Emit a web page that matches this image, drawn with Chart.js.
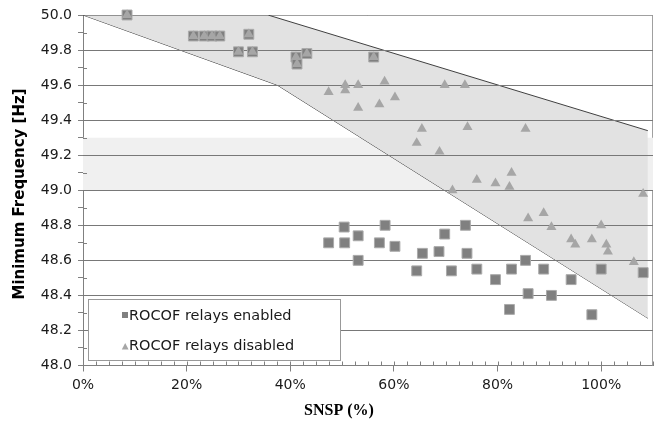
<!DOCTYPE html>
<html>
<head>
<meta charset="utf-8">
<script src="https://cdn.jsdelivr.net/npm/chart.js@4.4.0/dist/chart.umd.min.js"></script>
<style>
html, body { margin: 0; padding: 0; background: #fff; }
</style>
</head>
<body>
<canvas id="chart" width="661" height="429"></canvas>
<script>
// ROCOF relays enabled (squares)
const enabledSnsp = [8.5, 21.3, 23.4, 24.9, 26.4, 32.0, 30.0, 32.7, 41.1, 41.3, 43.2, 56.1,
    47.4, 50.4, 50.5, 53.1, 53.1, 57.2, 58.3, 60.2, 64.4, 65.5, 68.7, 69.8, 71.1, 73.8, 74.1,
    76.0, 79.6, 82.3, 82.7, 85.4, 85.9, 88.9, 90.4, 94.2, 98.2, 100.0, 108.1];
const enabledFreq = [50.0, 49.88, 49.88, 49.88, 49.88, 49.89, 49.79, 49.79, 49.76, 49.72, 49.78, 49.76,
    48.70, 48.79, 48.70, 48.74, 48.60, 48.70, 48.80, 48.68, 48.54, 48.64, 48.65, 48.75, 48.54, 48.80, 48.64,
    48.55, 48.49, 48.32, 48.55, 48.60, 48.41, 48.55, 48.40, 48.49, 48.29, 48.55, 48.53];

// ROCOF relays disabled (triangles)
const disabledSnsp = [8.5, 21.3, 23.4, 24.9, 26.4, 32.0, 30.0, 32.7, 41.1, 41.3, 43.2, 56.1,
    47.4, 50.6, 50.6, 53.1, 53.1, 57.2, 58.2, 60.2, 64.4, 65.4, 68.8, 69.8, 71.3, 73.7, 74.2,
    76.0, 79.6, 82.3, 82.7, 85.4, 85.9, 88.9, 90.4, 94.2, 95.0, 98.2, 100.0, 101.0, 101.3, 106.3, 108.1];
const disabledFreq = [50.0, 49.88, 49.88, 49.88, 49.88, 49.89, 49.79, 49.79, 49.76, 49.72, 49.78, 49.76,
    49.56, 49.60, 49.57, 49.60, 49.47, 49.49, 49.62, 49.53, 49.27, 49.35, 49.22, 49.60, 49.00, 49.60, 49.36,
    49.06, 49.04, 49.02, 49.10, 49.35, 48.84, 48.87, 48.79, 48.72, 48.69, 48.72, 48.80, 48.69, 48.65, 48.59, 48.98];

// shaded envelope
const upperSnsp = [0, 35.7, 109];
const upperFreq = [50.0, 50.0, 49.34];
const lowerSnsp = [0, 37.5, 109];
const lowerFreq = [50.0, 49.6, 48.27];

// light band 49.0 - 49.3 Hz
const bandSnsp = [0, 110];
const bandTop = [49.3, 49.3];
const bandBottom = 49.0;

function pts(xs, ys) {
    return xs.map((x, i) => ({ x: x, y: ys[i] }));
}

function isMajorX(v) { return Math.abs(v % 20) < 1e-6; }
function isMajorY(v) { return Math.round(v * 10) % 2 === 0; }

const FONT = '"DejaVu Sans", Verdana, sans-serif';
const GRID = '#787878';

const extras = {
    id: 'extras',
    beforeDatasetsDraw(chart) {
        const { ctx, chartArea: a } = chart;
        ctx.save();
        ctx.strokeStyle = '#a0a0a0';
        ctx.lineWidth = 1;
        ctx.beginPath();
        ctx.moveTo(a.left, Math.round(a.top) + 0.5);
        ctx.lineTo(Math.round(a.right) - 0.5, Math.round(a.top) + 0.5);
        ctx.lineTo(Math.round(a.right) - 0.5, a.bottom);
        ctx.stroke();
        ctx.restore();
    },
    beforeDatasetDraw(chart, args) {
        // gridlines again, over the shaded areas but under the markers
        if (args.index !== 1) return;
        const { ctx, chartArea: a } = chart;
        const ys = chart.scales.y;
        ctx.save();
        ctx.strokeStyle = GRID;
        ctx.lineWidth = 1;
        ctx.beginPath();
        ys.ticks.forEach(t => {
            if (!isMajorY(t.value) || t.value >= 49.99 || t.value <= 48.01) return;
            const py = Math.round(ys.getPixelForValue(t.value)) + 0.5;
            ctx.moveTo(a.left, py);
            ctx.lineTo(a.right, py);
        });
        ctx.stroke();
        ctx.restore();
    },
    afterDatasetsDraw(chart) {
        const { ctx, chartArea: a } = chart;
        const xs = chart.scales.x, ys = chart.scales.y;
        ctx.save();
        ctx.strokeStyle = '#808080';
        ctx.lineWidth = 1;
        ctx.beginPath();
        xs.ticks.forEach(t => {
            const px = Math.round(xs.getPixelForValue(t.value)) + 0.5;
            ctx.moveTo(px, a.bottom);
            ctx.lineTo(px, a.bottom - 4);
        });
        ys.ticks.forEach(t => {
            if (isMajorY(t.value)) return;
            const py = Math.round(ys.getPixelForValue(t.value)) + 0.5;
            ctx.moveTo(a.left, py);
            ctx.lineTo(a.left + 4, py);
        });
        ctx.stroke();
        ctx.restore();
    },
    afterDraw(chart) {
        const { ctx } = chart;
        const ds = chart.data.datasets;
        ctx.save();
        // legend box
        ctx.fillStyle = '#fff';
        ctx.fillRect(88.5, 299.5, 252, 61);
        ctx.strokeStyle = '#999';
        ctx.lineWidth = 1;
        ctx.strokeRect(88.5, 299.5, 252, 61);
        ctx.fillStyle = ds[1].backgroundColor;
        ctx.fillRect(122, 312, 6, 6);
        ctx.fillStyle = ds[0].backgroundColor;
        ctx.beginPath();
        ctx.moveTo(125.2, 343);
        ctx.lineTo(128.6, 349.5);
        ctx.lineTo(121.8, 349.5);
        ctx.closePath();
        ctx.fill();
        ctx.fillStyle = '#1a1a1a';
        ctx.font = '14.5px ' + FONT;
        ctx.textBaseline = 'middle';
        ctx.textAlign = 'left';
        ctx.fillText(ds[1].label, 129, 316);
        ctx.fillText(ds[0].label, 129, 346);
        // axis titles
        ctx.fillStyle = '#000';
        ctx.textAlign = 'center';
        ctx.font = 'bold 16px "Liberation Serif", "Times New Roman", serif';
        ctx.fillText('SNSP (%)', 339, 411);
        ctx.translate(20, 194);
        ctx.rotate(-Math.PI / 2);
        ctx.font = 'bold 15px ' + FONT;
        ctx.fillText('Minimum Frequency [Hz]', 0, 0);
        ctx.restore();
    }
};

new Chart(document.getElementById('chart'), {
    type: 'scatter',
    data: {
        datasets: [{
            label: 'ROCOF relays disabled',
            data: pts(disabledSnsp, disabledFreq),
            pointStyle: 'triangle',
            pointRadius: 5.8,
            backgroundColor: '#a6a6a6',
            borderColor: '#a6a6a6',
            borderWidth: 0,
            clip: false,
            order: 0
        }, {
            label: 'ROCOF relays enabled',
            data: pts(enabledSnsp, enabledFreq),
            pointStyle: 'rect',
            pointRadius: 7,
            backgroundColor: '#808080',
            borderColor: '#ababab',
            borderWidth: 1,
            clip: false,
            order: 1
        }, {
            label: 'upper',
            data: pts(upperSnsp, upperFreq),
            showLine: true,
            pointRadius: 0,
            borderColor: '#404040',
            borderWidth: 1,
            backgroundColor: '#e2e2e2',
            fill: '+1',
            order: 2
        }, {
            label: 'lower',
            data: pts(lowerSnsp, lowerFreq),
            showLine: true,
            pointRadius: 0,
            borderColor: '#404040',
            borderWidth: 1,
            fill: false,
            order: 2
        }, {
            label: 'band',
            data: pts(bandSnsp, bandTop),
            showLine: true,
            pointRadius: 0,
            borderWidth: 0,
            borderColor: 'rgba(0,0,0,0)',
            backgroundColor: '#f0f0f0',
            fill: { value: bandBottom },
            order: 3
        }]
    },
    options: {
        responsive: false,
        animation: false,
        devicePixelRatio: 1,
        layout: { padding: { top: 15, right: 7, left: 0, bottom: 0 } },
        plugins: { legend: { display: false }, tooltip: { enabled: false } },
        scales: {
            x: {
                type: 'linear',
                min: 0,
                max: 110,
                afterFit: s => { s.height = 63.5; },
                ticks: {
                    stepSize: 2.5,
                    autoSkip: false,
                    maxRotation: 0,
                    padding: 5,
                    color: '#1a1a1a',
                    font: { family: FONT, size: 14 },
                    callback: v => isMajorX(v) ? v + '%' : ''
                },
                grid: {
                    drawOnChartArea: false,
                    tickLength: 6,
                    tickColor: c => isMajorX(c.tick.value) ? '#808080' : 'rgba(0,0,0,0)'
                },
                border: { color: '#808080' }
            },
            y: {
                min: 48,
                max: 50,
                afterFit: s => { s.width = 83; },
                ticks: {
                    stepSize: 0.1,
                    autoSkip: false,
                    padding: 6,
                    color: '#1a1a1a',
                    font: { family: FONT, size: 14 },
                    callback: v => isMajorY(v) ? v.toFixed(1) : ''
                },
                grid: {
                    tickLength: 5,
                    tickColor: '#808080',
                    color: c => isMajorY(c.tick.value) ? GRID : 'rgba(0,0,0,0)'
                },
                border: { color: '#808080' }
            }
        }
    },
    plugins: [extras]
});
</script>
</body>
</html>
